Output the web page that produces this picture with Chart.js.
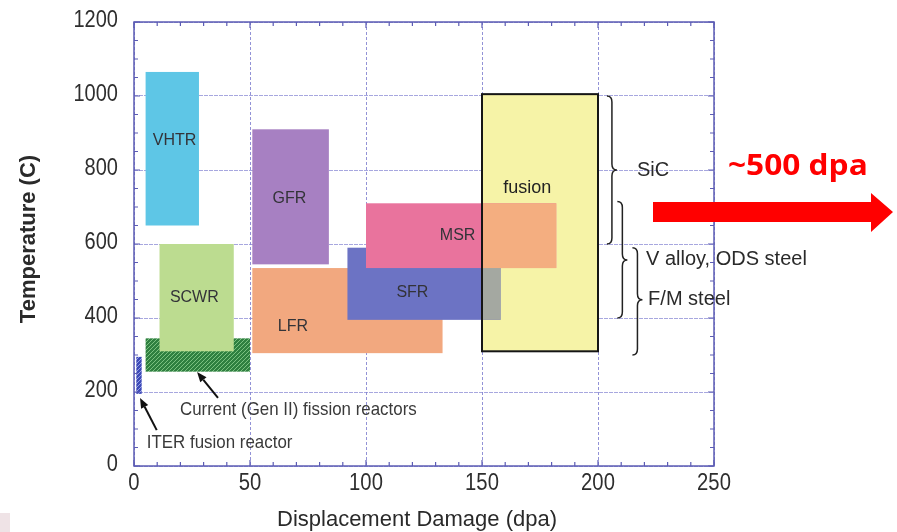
<!DOCTYPE html>
<html>
<head>
<meta charset="utf-8">
<script src="https://cdn.jsdelivr.net/npm/chart.js@4.4.1/dist/chart.umd.min.js"></script>
<style>
  html, body { margin: 0; padding: 0; background: #ffffff; }
  #wrap { position: relative; width: 897px; height: 532px; }
  #corner { position: absolute; left: 0; top: 513px; width: 10px; height: 19px; background: #efe3e6; }
</style>
</head>
<body>
<div id="wrap">
  <canvas id="chart" width="897" height="532"></canvas>
  <div id="corner"></div>
</div>
<script>
// Axis ticks
const xTickValues = [0, 50, 100, 150, 200, 250];
const xTickLabels = ['0', '50', '100', '150', '200', '250'];
const yTickValues = [0, 200, 400, 600, 800, 1000, 1200];
const yTickLabels = ['0', '200', '400', '600', '800', '1000', '1200'];

// Reactor operating windows: displacement damage range (dpa) and temperature range (C)
const reactorNames = ['Current (Gen II)', 'ITER', 'VHTR', 'SCWR', 'GFR', 'LFR', 'SFR', 'MSR'];
const reactorDpaMin = [5, 1, 5, 11, 51, 51, 92, 100];
const reactorDpaMax = [50, 3.3, 28, 43, 84, 133, 158, 182];
const reactorTempMin = [255, 195, 650, 310, 545, 305, 395, 535];
const reactorTempMax = [345, 295, 1065, 600, 910, 535, 590, 710];
const reactorLabels = ['', '', 'VHTR', 'SCWR', 'GFR', 'LFR', 'SFR', 'MSR'];
const reactorLabelDpa = [0, 0, 17.5, 26, 67, 68.5, 120, 139.5];
const reactorLabelTemp = [0, 0, 880, 456, 724, 376, 468, 622];

// Fusion window
const fusionDpa = [150, 200];
const fusionTemp = [310, 1005];
const fusionLabel = 'fusion';
const fusionLabelAt = [169.5, 751];

// Material ranges shown as braces on the right
const materialNames = ['SiC', 'V alloy, ODS steel', 'F/M steel'];
const materialTempMax = [1000, 715, 590];
const materialTempMin = [600, 400, 300];
const materialTempMid = [800, 557, 449];
const materialBraceDpa = [206, 210.5, 217];
const materialTextDpa = [216.8, 220.7, 221.6];

// Pointer notes
const noteTexts = ['Current (Gen II) fission reactors', 'ITER fusion reactor'];
const noteTextDpa = [19.8, 5.5];
const noteTextTemp = [151, 62];
const noteArrowFrom = [[36.2, 184], [9.8, 97]];
const noteArrowTo = [[27.2, 254], [2.6, 184]];

const bigNote = '~500 dpa';

const SANS = "'Liberation Sans', Arial, sans-serif";

const colors = {
  'Current (Gen II)': '#2f8040',
  'ITER': '#3c49b8',
  'VHTR': '#5ec6e6',
  'SCWR': '#bcdc90',
  'GFR': '#a780c2',
  'LFR': '#f2a87f',
  'SFR': '#6c73c4',
  'MSR': '#e9739d'
};
const overlapColors = { 'SFR': '#a4a8a1', 'MSR': '#f4ae80' };
const hatchStripes = { 'Current (Gen II)': 'rgba(150,215,150,0.75)', 'ITER': 'rgba(170,180,240,0.8)' };
const drawOrder = ['Current (Gen II)', 'ITER', 'VHTR', 'SCWR', 'GFR', 'LFR', 'SFR', 'MSR'];

function hatch(ctx, base, stripe) {
  const c = document.createElement('canvas');
  c.width = 4; c.height = 4;
  const g = c.getContext('2d');
  g.fillStyle = base; g.fillRect(0, 0, 4, 4);
  g.strokeStyle = stripe; g.lineWidth = 1;
  g.beginPath();
  g.moveTo(0, 4); g.lineTo(4, 0);
  g.moveTo(-1, 1); g.lineTo(1, -1);
  g.moveTo(3, 5); g.lineTo(5, 3);
  g.stroke();
  return ctx.createPattern(c, 'repeat');
}

function rectPx(x, y, a0, a1, t0, t1) {
  const l = x.getPixelForValue(a0), r = x.getPixelForValue(a1);
  const top = y.getPixelForValue(t1), bot = y.getPixelForValue(t0);
  return [l, top, r - l, bot - top];
}

// text with horizontal condensing
function text(ctx, s, px, py, align, sx) {
  ctx.save();
  ctx.translate(px, py);
  ctx.scale(sx, 1);
  ctx.textAlign = align;
  ctx.fillText(s, 0, 0);
  ctx.restore();
}

function arrow(ctx, x0, y0, x1, y1, head, width) {
  const ang = Math.atan2(y1 - y0, x1 - x0);
  const bx = x1 - head * Math.cos(ang), by = y1 - head * Math.sin(ang);
  ctx.beginPath();
  ctx.moveTo(x0, y0); ctx.lineTo(bx, by);
  ctx.stroke();
  ctx.beginPath();
  ctx.moveTo(x1, y1);
  ctx.lineTo(bx + width * Math.sin(ang), by - width * Math.cos(ang));
  ctx.lineTo(bx - width * Math.sin(ang), by + width * Math.cos(ang));
  ctx.closePath();
  ctx.fill();
}

function brace(ctx, x, top, bot, mid, w) {
  const r = 6;
  ctx.beginPath();
  ctx.moveTo(x - w, top);
  ctx.quadraticCurveTo(x, top, x, top + r);
  ctx.lineTo(x, mid - r);
  ctx.quadraticCurveTo(x, mid, x + w, mid);
  ctx.quadraticCurveTo(x, mid, x, mid + r);
  ctx.lineTo(x, bot - r);
  ctx.quadraticCurveTo(x, bot, x - w, bot);
  ctx.stroke();
}

const windowsPlugin = {
  id: 'windows',
  beforeDatasetsDraw(chart) {
    const { ctx, scales: { x, y } } = chart;
    ctx.save();
    // fusion window fill
    ctx.fillStyle = '#f6f3a7';
    ctx.fillRect(...rectPx(x, y, fusionDpa[0], fusionDpa[1], fusionTemp[0], fusionTemp[1]));
    drawOrder.forEach(name => {
      const i = reactorNames.indexOf(name);
      const base = colors[name];
      ctx.fillStyle = hatchStripes[name] ? hatch(ctx, base, hatchStripes[name]) : base;
      ctx.fillRect(...rectPx(x, y, reactorDpaMin[i], reactorDpaMax[i], reactorTempMin[i], reactorTempMax[i]));
    });
    // parts of the fission windows lying inside the fusion window
    ['SFR', 'MSR'].forEach(name => {
      const i = reactorNames.indexOf(name);
      const a0 = Math.max(reactorDpaMin[i], fusionDpa[0]);
      const a1 = Math.min(reactorDpaMax[i], fusionDpa[1]);
      const t0 = Math.max(reactorTempMin[i], fusionTemp[0]);
      const t1 = Math.min(reactorTempMax[i], fusionTemp[1]);
      if (a1 > a0 && t1 > t0) {
        ctx.fillStyle = overlapColors[name];
        ctx.fillRect(...rectPx(x, y, a0, a1, t0, t1));
      }
    });
    // fusion window outline
    ctx.strokeStyle = '#151515';
    ctx.lineWidth = 2;
    ctx.strokeRect(...rectPx(x, y, fusionDpa[0], fusionDpa[1], fusionTemp[0], fusionTemp[1]));

    // window labels
    ctx.fillStyle = '#333338';
    ctx.font = '16px ' + SANS;
    ctx.textAlign = 'center';
    ctx.textBaseline = 'middle';
    reactorLabels.forEach((t, i) => {
      if (!t) return;
      ctx.fillText(t, x.getPixelForValue(reactorLabelDpa[i]), y.getPixelForValue(reactorLabelTemp[i]));
    });
    ctx.fillStyle = '#222';
    ctx.font = '18px ' + SANS;
    ctx.fillText(fusionLabel, x.getPixelForValue(fusionLabelAt[0]), y.getPixelForValue(fusionLabelAt[1]));
    ctx.restore();
  },
  afterDraw(chart) {
    const { ctx, chartArea: ca, scales: { x, y } } = chart;
    ctx.save();
    // frame
    ctx.strokeStyle = '#5c5cb4';
    ctx.lineWidth = 1.5;
    ctx.strokeRect(ca.left, ca.top, ca.right - ca.left, ca.bottom - ca.top);
    // inward ticks
    ctx.lineWidth = 1.2;
    ctx.beginPath();
    for (let v = 0; v <= 250; v += 10) {
      const px = x.getPixelForValue(v);
      const len = v % 50 === 0 ? 6 : 4;
      ctx.moveTo(px, ca.bottom); ctx.lineTo(px, ca.bottom - len);
      ctx.moveTo(px, ca.top); ctx.lineTo(px, ca.top + len);
    }
    for (let v = 0; v <= 1200; v += 50) {
      const py = y.getPixelForValue(v);
      const len = v % 200 === 0 ? 6 : 4;
      ctx.moveTo(ca.left, py); ctx.lineTo(ca.left + len, py);
      ctx.moveTo(ca.right, py); ctx.lineTo(ca.right - len, py);
    }
    ctx.stroke();

    // tick labels
    ctx.fillStyle = '#2e2e2e';
    ctx.font = '23px ' + SANS;
    ctx.textBaseline = 'alphabetic';
    xTickValues.forEach((v, i) => text(ctx, xTickLabels[i], x.getPixelForValue(v), ca.bottom + 24, 'center', 0.88));
    yTickValues.forEach((v, i) => text(ctx, yTickLabels[i], ca.left - 16, y.getPixelForValue(v) + 5, 'right', 0.87));

    // braces and material names
    ctx.strokeStyle = '#222';
    ctx.lineWidth = 1.5;
    materialNames.forEach((m, i) => {
      brace(ctx, x.getPixelForValue(materialBraceDpa[i]), y.getPixelForValue(materialTempMax[i]),
        y.getPixelForValue(materialTempMin[i]), y.getPixelForValue(materialTempMid[i]), 5);
    });
    ctx.fillStyle = '#2a2a2a';
    ctx.font = '20px ' + SANS;
    ctx.textBaseline = 'middle';
    materialNames.forEach((m, i) => {
      text(ctx, m, x.getPixelForValue(materialTextDpa[i]), y.getPixelForValue(materialTempMid[i]), 'left', 1.0);
    });

    // pointer notes
    ctx.fillStyle = '#111';
    ctx.strokeStyle = '#111';
    ctx.lineWidth = 2;
    noteArrowFrom.forEach((f, i) => {
      const t = noteArrowTo[i];
      arrow(ctx, x.getPixelForValue(f[0]), y.getPixelForValue(f[1]),
        x.getPixelForValue(t[0]), y.getPixelForValue(t[1]), 10, 4);
    });
    ctx.fillStyle = '#3a3a3a';
    ctx.font = '19px ' + SANS;
    noteTexts.forEach((t, i) => {
      text(ctx, t, x.getPixelForValue(noteTextDpa[i]), y.getPixelForValue(noteTextTemp[i]), 'left', 0.89);
    });

    // axis titles
    ctx.fillStyle = '#2a2a2a';
    ctx.font = '22px ' + SANS;
    ctx.textAlign = 'center';
    ctx.textBaseline = 'alphabetic';
    ctx.fillText('Displacement Damage (dpa)', 417, 526);
    ctx.save();
    ctx.translate(35, 239);
    ctx.rotate(-Math.PI / 2);
    ctx.font = 'bold 22px ' + SANS;
    ctx.fillText('Temperature (C)', 0, 0);
    ctx.restore();

    // red arrow towards higher damage
    ctx.fillStyle = '#ff0000';
    ctx.beginPath();
    ctx.moveTo(653, 202); ctx.lineTo(871, 202); ctx.lineTo(871, 193);
    ctx.lineTo(893, 212); ctx.lineTo(871, 232); ctx.lineTo(871, 222);
    ctx.lineTo(653, 222); ctx.closePath();
    ctx.fill();
    ctx.font = "bold 28px 'Open Sans', 'Noto Sans', sans-serif";
    ctx.textBaseline = 'alphabetic';
    text(ctx, bigNote, 728, 175, 'left', 1.13);
    ctx.restore();
  }
};

new Chart(document.getElementById('chart'), {
  type: 'scatter',
  data: { datasets: [{ data: [], showLine: false }] },
  options: {
    responsive: false,
    animation: false,
    events: [],
    layout: { padding: { left: 0, top: 22, right: 183, bottom: 0 } },
    plugins: { legend: { display: false }, tooltip: { enabled: false } },
    scales: {
      x: {
        type: 'linear', min: 0, max: 250,
        afterFit: s => { s.height = 66; },
        afterBuildTicks: s => { s.ticks = xTickValues.map(v => ({ value: v })); },
        ticks: { display: false },
        grid: { color: 'rgba(110,110,200,0.75)', lineWidth: 1, drawTicks: false },
        border: { display: false, dash: [3, 2] }
      },
      y: {
        type: 'linear', min: 0, max: 1200,
        afterFit: s => { s.width = 134; },
        afterBuildTicks: s => { s.ticks = yTickValues.map(v => ({ value: v })); },
        ticks: { display: false },
        grid: { color: 'rgba(130,130,210,0.7)', lineWidth: 1, drawTicks: false },
        border: { display: false, dash: [4, 1] }
      }
    }
  },
  plugins: [windowsPlugin]
});
</script>
</body>
</html>
